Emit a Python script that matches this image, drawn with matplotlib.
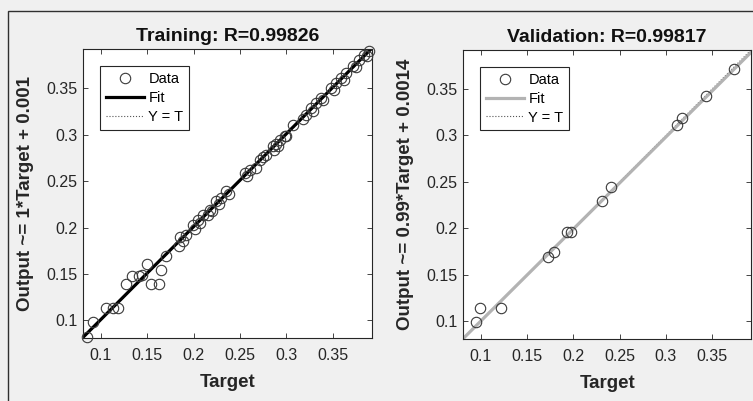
import matplotlib
matplotlib.use("Agg")
import matplotlib.pyplot as plt
from matplotlib.patches import Rectangle

plt.rcParams['font.family'] = ['Liberation Sans', 'DejaVu Sans']

# axis limits (same on x and y)
lims = [0.081, 0.392]
ticks = [0.1, 0.15, 0.2, 0.25, 0.3, 0.35]
tick_labels = ['0.1', '0.15', '0.2', '0.25', '0.3', '0.35']

# training set (target, output)
train_target = [0.0846, 0.0917, 0.1054, 0.1132, 0.1186, 0.1269, 0.1330, 0.1412, 0.1440,
                0.1498, 0.1535, 0.1628, 0.1653, 0.1700, 0.1840, 0.1858, 0.1880, 0.1922,
                0.1990, 0.2010, 0.2047, 0.2070, 0.2100, 0.2150, 0.2173, 0.2200, 0.2245,
                0.2270, 0.2300, 0.2353, 0.2380, 0.2550, 0.2580, 0.2604, 0.2676, 0.2711,
                0.2750, 0.2784, 0.2855, 0.2870, 0.2890, 0.2910, 0.2927, 0.2980, 0.3000,
                0.3070, 0.3180, 0.3214, 0.3267, 0.3290, 0.3321, 0.3375, 0.3400, 0.3483,
                0.3510, 0.3537, 0.3591, 0.3620, 0.3645, 0.3717, 0.3750, 0.3788, 0.3842,
                0.3870, 0.3896]
train_output = [0.0817, 0.0983, 0.1133, 0.1133, 0.1133, 0.1395, 0.1481, 0.1481, 0.1490,
                0.1610, 0.1395, 0.1395, 0.1546, 0.1689, 0.1797, 0.1894, 0.1850, 0.1923,
                0.2030, 0.1980, 0.2084, 0.2050, 0.2139, 0.2130, 0.2193, 0.2180, 0.2282,
                0.2250, 0.2318, 0.2389, 0.2360, 0.2587, 0.2560, 0.2622, 0.2640, 0.2729,
                0.2760, 0.2784, 0.2873, 0.2840, 0.2900, 0.2880, 0.2946, 0.2982, 0.2990,
                0.3109, 0.3170, 0.3217, 0.3289, 0.3260, 0.3343, 0.3397, 0.3370, 0.3504,
                0.3480, 0.3558, 0.3612, 0.3590, 0.3666, 0.3737, 0.3730, 0.3809, 0.3863,
                0.3850, 0.3900]
train_slope, train_icpt = 1.0, 0.001

# validation set
val_target = [0.0949, 0.0992, 0.1219, 0.1730, 0.1792, 0.1929, 0.1975, 0.2310, 0.2407,
              0.3123, 0.3177, 0.3433, 0.3735]
val_output = [0.0994, 0.1144, 0.1144, 0.1692, 0.1746, 0.1957, 0.1965, 0.2290, 0.2445,
              0.3115, 0.3183, 0.3427, 0.3720]
val_slope, val_icpt = 0.99, 0.0014

W, H = 753, 401
fig = plt.figure(figsize=(W / 100, H / 100), dpi=100, facecolor='#f0f0f0')
# window border
fig.patches.append(Rectangle((8 / W, -0.1), 1.1, (H - 11) / H + 0.1, transform=fig.transFigure,
                             fill=False, edgecolor='#303030', linewidth=1.0))

panels = [
    ([83.3, 63, 288.4, 288.7], 'Training: R=0.99826', 'Output ~= 1*Target + 0.001',
     train_target, train_output, train_slope, train_icpt, 'black'),
    ([463.3, 62, 287.7, 289], 'Validation: R=0.99817', 'Output ~= 0.99*Target + 0.0014',
     val_target, val_output, val_slope, val_icpt, '#b3b3b3'),
]

for rect, title, ylab, tx, ty, m, b, fitcol in panels:
    ax = fig.add_axes([rect[0] / W, rect[1] / H, rect[2] / W, rect[3] / H])
    ax.plot(tx, ty, 'o', mfc='none', mec='#3a3a3a', ms=7.5, mew=0.8, label='Data',
            zorder=3, clip_on=False)
    fx = [lims[0], lims[1]]
    fy = [m * v + b for v in fx]
    ax.plot(fx, fy, '-', color=fitcol, lw=2.3, label='Fit', zorder=2)
    ax.plot(lims, lims, ':', color='#555555', lw=0.8, label='Y = T', zorder=1)
    ax.set_xlim(lims)
    ax.set_ylim(lims)
    ax.set_xticks(ticks)
    ax.set_xticklabels(tick_labels)
    ax.set_yticks(ticks)
    ax.set_yticklabels(tick_labels)
    ax.tick_params(direction='in', top=True, right=True, length=3.5, width=0.6,
                   labelsize=11.5, colors='#262626')
    ax.tick_params(axis='x', pad=7)
    ax.tick_params(axis='y', pad=4)
    for sp in ax.spines.values():
        sp.set_color('#262626')
        sp.set_linewidth(0.8)
    ax.set_title(title, fontsize=14, fontweight='bold', color='#111111', pad=6)
    ax.set_xlabel('Target', fontsize=13.5, fontweight='bold', color='#262626')
    ax.set_ylabel(ylab, fontsize=13.5, fontweight='bold', color='#262626')
    ax.yaxis.set_label_coords(-0.171, 0.5)
    ax.xaxis.set_label_coords(0.5, -0.125)
    leg = ax.legend(loc='upper left', bbox_to_anchor=(0.059, 0.941), borderaxespad=0,
                    fontsize=10.5, fancybox=False, framealpha=1, edgecolor='#262626',
                    handlelength=2.6, handletextpad=0.3, borderpad=0.4, labelspacing=0.33)
    leg.get_frame().set_linewidth(0.8)

fig.savefig('out.png', dpi=100, facecolor=fig.get_facecolor())
